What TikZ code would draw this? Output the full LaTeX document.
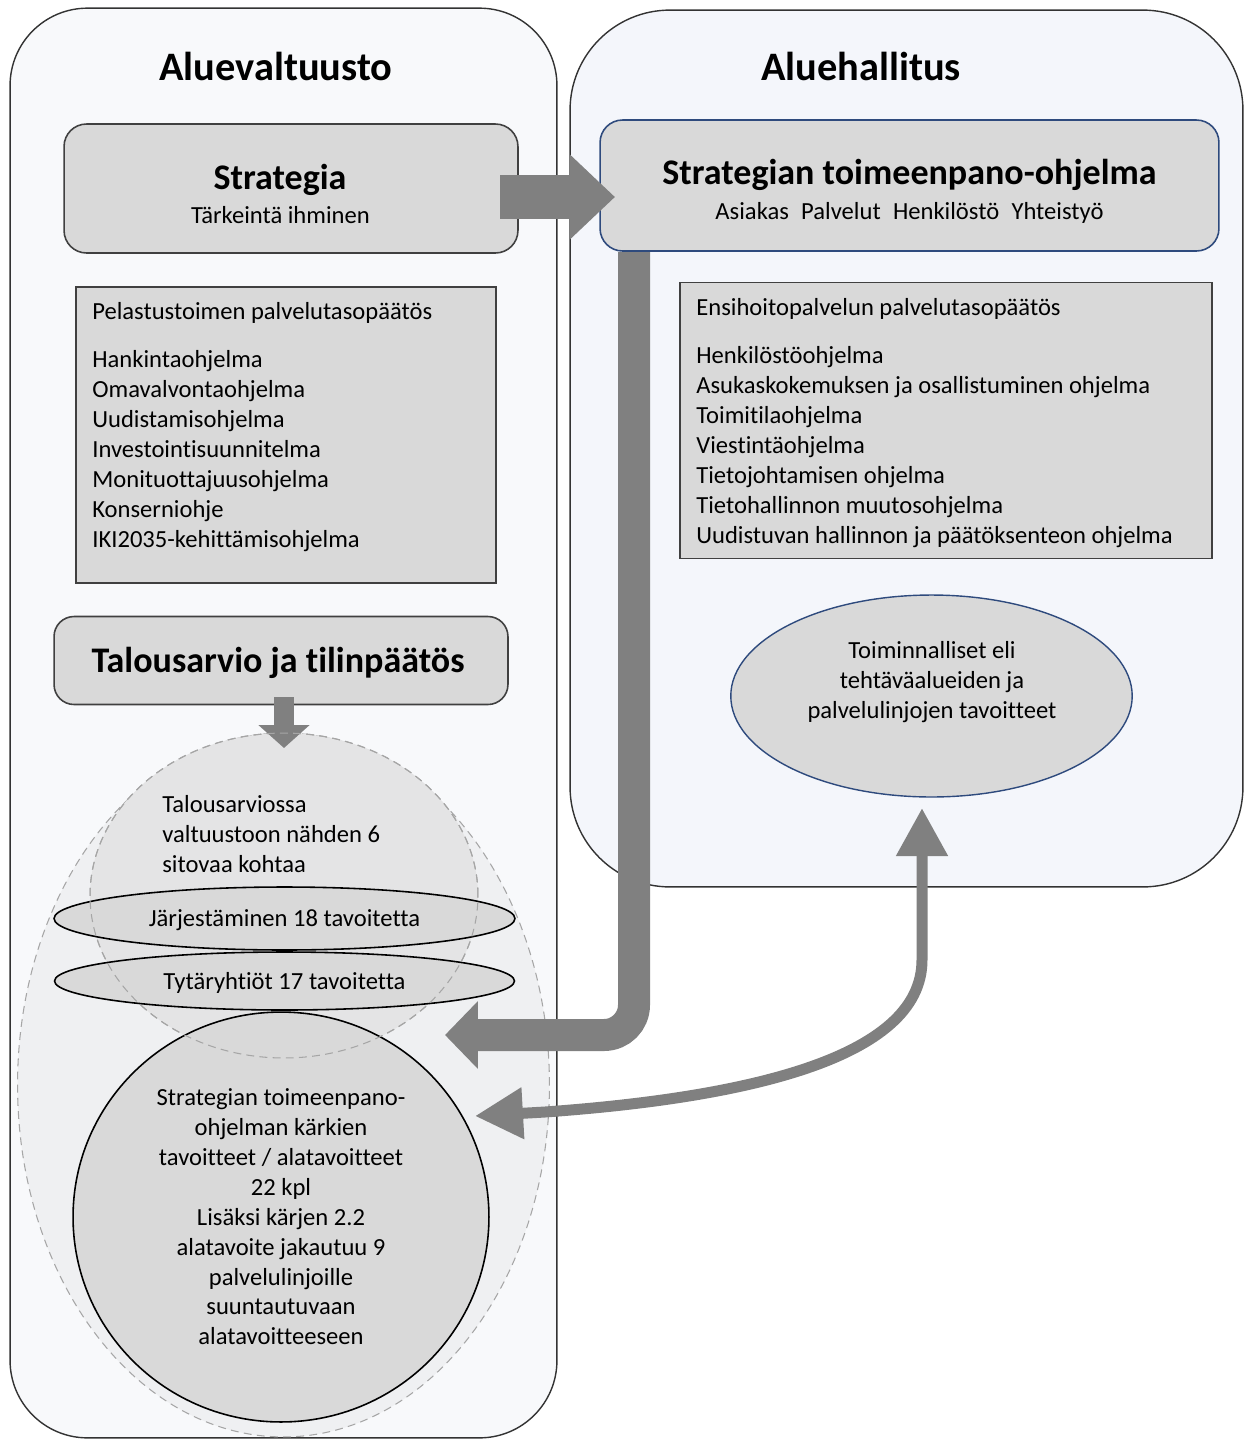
\documentclass[tikz,border=0pt]{standalone}
\usepackage{fontspec}
\setmainfont{Carlito}[Ligatures=NoCommon]
\usetikzlibrary{arrows.meta,shapes.geometric,positioning}

\definecolor{leftbg}{HTML}{F8F9FB}
\definecolor{rightbg}{HTML}{F4F6FB}
\definecolor{boxgray}{HTML}{D9D9D9}
\definecolor{navy}{HTML}{2E4A7D}
\definecolor{arrowgray}{HTML}{808080}
\definecolor{outerfill}{HTML}{EFF0F2}
\definecolor{innerfill}{HTML}{E4E4E5}
\definecolor{dashgray}{HTML}{A6A6A6}

\tikzset{
  panel/.style={draw=black!80, line width=0.8pt, rectangle},
  graybox/.style={draw=black!75, line width=0.9pt, fill=boxgray, rectangle},
  paneltitle/.style={anchor=base, inner sep=0pt, font=\bfseries\fontsize{23}{27}\selectfont},
  boxhead/.style={anchor=base, inner sep=0pt, font=\bfseries\fontsize{20.5}{24}\selectfont},
  boxsub/.style={anchor=base, inner sep=0pt, font=\fontsize{14}{17}\selectfont},
  listtext/.style={anchor=base west, inner sep=0pt, font=\fontsize{14}{17}\selectfont},
  centertext/.style={align=center, inner sep=0pt, font=\fontsize{14}{17}\selectfont},
  goalellipse/.style={ellipse, draw=black, line width=0.9pt, fill=boxgray, inner sep=0pt,
    align=center, font=\fontsize{14}{17}\selectfont},
  dashedarea/.style={ellipse, draw=dashgray, line width=0.6pt, dash pattern=on 4.5pt off 3pt, inner sep=0pt},
  fatarrow/.style={draw=arrowgray, line cap=butt},
}

\begin{document}
\begin{tikzpicture}[x=0.02cm, y=-0.02cm]
\useasboundingbox (0,0) rectangle (1245,1441);

% panels
\node[panel, fill=leftbg, rounded corners=1.55cm, minimum width=10.94cm, minimum height=28.6cm] (valtuusto) at (283.5,723) {};
\node[panel, fill=rightbg, rounded corners=2cm, minimum width=13.46cm, minimum height=17.54cm] (hallitus) at (906.5,448.5) {};
\node[paneltitle] (valtuusto-title) at (276,80) {Aluevaltuusto};
\node[paneltitle] (hallitus-title) at (861,80) {Aluehallitus};

% strategy boxes
\node[graybox, rounded corners=0.45cm, minimum width=9.08cm, minimum height=2.58cm] (strategia) at (291,188.5) {};
\node[boxhead] (strategia-title) at (280,189) {Strategia};
\node[boxsub] (strategia-sub) at (280.5,223) {Tärkeintä ihminen};

\node[graybox, draw=navy, rounded corners=0.45cm, minimum width=12.38cm, minimum height=2.62cm] (ohjelma) at (909.5,185.5) {};
\node[boxhead] (ohjelma-title) at (909.5,184) {Strategian toimeenpano-ohjelma};
\node[boxsub] (ohjelma-sub) at (909.5,219) {Asiakas\hspace{0.5em}Palvelut\hspace{0.5em}Henkilöstö\hspace{0.5em}Yhteistyö};

% service level decisions
\node[graybox, minimum width=8.4cm, minimum height=5.92cm] (pelastus) at (286,435) {};
\node[listtext] (pelastus-title) at (92,319) {Pelastustoimen palvelutasopäätös};
\foreach \t [count=\i] in {Hankintaohjelma,Omavalvontaohjelma,Uudistamisohjelma,Investointisuunnitelma,Monituottajuusohjelma,Konserniohje,IKI2035-kehittämisohjelma}
  \node[listtext] (pelastus-\i) at (92,337+30*\i) {\t};

\node[graybox, minimum width=10.64cm, minimum height=5.52cm] (ensihoito) at (946,420.5) {};
\node[listtext] (ensihoito-title) at (696,315) {Ensihoitopalvelun palvelutasopäätös};
\foreach \t [count=\i] in {Henkilöstöohjelma,Asukaskokemuksen ja osallistuminen ohjelma,Toimitilaohjelma,Viestintäohjelma,Tietojohtamisen ohjelma,Tietohallinnon muutosohjelma,Uudistuvan hallinnon ja päätöksenteon ohjelma}
  \node[listtext] (ensihoito-\i) at (696,333+30*\i) {\t};

% budget
\node[graybox, rounded corners=0.4cm, minimum width=9.08cm, minimum height=1.76cm] (talous) at (281,660.5) {};
\node[boxhead] (talous-title) at (278,672) {Talousarvio ja tilinpäätös};

\node[ellipse, draw=navy, line width=0.8pt, fill=boxgray, inner sep=0pt,
  minimum width=8.03cm, minimum height=4.04cm] (toiminnalliset) at (931.5,696) {};
\node[centertext] (toiminnalliset-text) at (932,682) {Toiminnalliset eli\\tehtäväalueiden ja\\palvelulinjojen tavoitteet};

% binding goals
\node[dashedarea, fill=outerfill, minimum width=10.64cm, minimum height=14.08cm] (budjetti) at (283.5,1085) {};
\node[dashedarea, fill=innerfill, minimum width=7.76cm, minimum height=6.5cm] (sitovat) at (284,895.5) {};
\foreach \t [count=\i] in {Talousarviossa,valtuustoon nähden 6,sitovaa kohtaa}
  \node[listtext] (sitovat-\i) at (162,782+30*\i) {\t};

\node[goalellipse, text depth=0pt, minimum width=9.22cm, minimum height=1.26cm] (jarjestaminen) at (284.5,918.5) {Järjestäminen 18 tavoitetta};
\node[goalellipse, text depth=0pt, minimum width=9.2cm, minimum height=1.16cm] (tytar) at (284.5,981) {Tytäryhtiöt 17 tavoitetta};

\node[goalellipse, minimum width=8.32cm, minimum height=8.2cm] (karjet) at (281,1217)
{Strategian toimeenpano-\\ohjelman kärkien\\tavoitteet / alatavoitteet\\22 kpl\\Lisäksi kärjen 2.2\\alatavoite jakautuu 9\\palvelulinjoille\\suuntautuvaan\\alatavoitteeseen};

% arrows
\coordinate (strategia-out) at (500,197);
\coordinate (ohjelma-in) at (615,197);
\draw[fatarrow, line width=0.88cm, -{Triangle[length=0.9cm,width=1.64cm]}] (strategia-out) -- (ohjelma-in);

\coordinate (ohjelma-out) at (634,252);
\coordinate (budjetti-in) at (445,1035);
\draw[fatarrow, line width=0.64cm, rounded corners=0.6cm, -{Triangle[length=0.66cm,width=1.32cm]}] (ohjelma-out) |- (budjetti-in);

\coordinate (talous-out) at (284,697);
\coordinate (sitovat-in) at (284,748);
\draw[fatarrow, line width=0.4cm, -{Triangle[length=0.46cm,width=1cm]}] (talous-out) -- (sitovat-in);

\coordinate (karjet-in) at (475,1116);
\coordinate (toiminnalliset-in) at (922,808);
\draw[fatarrow, line width=0.22cm, {Triangle[length=0.96cm,width=0.98cm]}-{Triangle[length=0.96cm,width=0.98cm]}]
  (karjet-in) -- (545,1112) .. controls (740,1098) and (922,1060) .. (922,960) -- (toiminnalliset-in);

% dashed outline kept on top
\draw[draw=dashgray, line width=0.6pt, dash pattern=on 4.5pt off 3pt] (sitovat.center) ellipse [x radius=3.88cm, y radius=3.25cm];
\end{tikzpicture}
\end{document}
